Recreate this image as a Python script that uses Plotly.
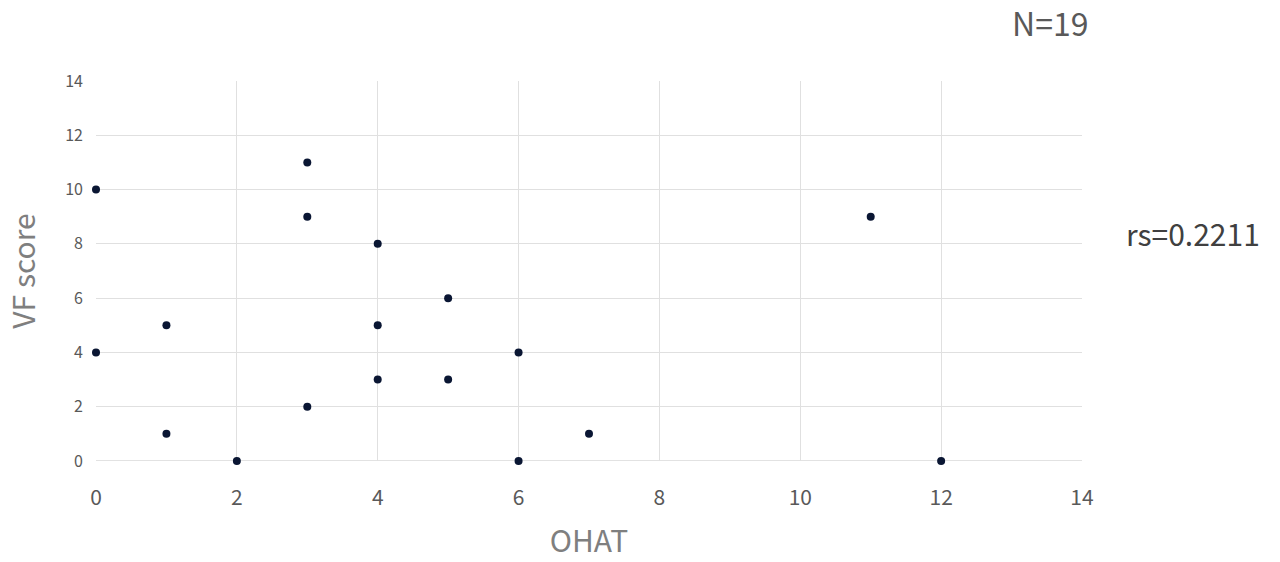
import plotly.graph_objects as go

ohat = [0, 0, 1, 1, 2, 3, 3, 3, 4, 4, 4, 5, 5, 6, 6, 7, 11, 12]
vf_score = [10, 4, 5, 1, 0, 11, 9, 2, 8, 5, 3, 6, 3, 4, 0, 1, 9, 0]
x_ticks = [0, 2, 4, 6, 8, 10, 12, 14]
y_ticks = [0, 2, 4, 6, 8, 10, 12, 14]

FONT = "Noto Sans CJK JP"

fig = go.Figure()
fig.add_trace(go.Scatter(
    x=ohat, y=vf_score, mode="markers",
    marker=dict(color="#0a1633", size=8),
    cliponaxis=False, showlegend=False,
))

fig.update_layout(
    width=1280, height=562,
    margin=dict(l=96, r=198, t=81, b=101),
    paper_bgcolor="white", plot_bgcolor="white",
    font=dict(family=FONT, color="#595959"),
    xaxis=dict(
        range=[0, 14], tickvals=x_ticks, ticktext=[str(v) for v in x_ticks],
        showgrid=True, gridcolor="#e0e0e0", gridwidth=1,
        zeroline=False, showline=False, ticks="", automargin=False,
        tickfont=dict(size=21, color="#595959", family=FONT),
        ticklabelstandoff=22,
        title=dict(text="OHAT", font=dict(size=30, color="#7f7f7f", family=FONT), standoff=20),
    ),
    yaxis=dict(
        range=[0, 14], tickvals=y_ticks, ticktext=[str(v) for v in y_ticks],
        showgrid=True, gridcolor="#e0e0e0", gridwidth=1,
        zeroline=False, showline=False, ticks="", automargin=False,
        tickfont=dict(size=16, color="#595959", family=FONT),
        ticklabelstandoff=12,
        title=dict(text="VF score", font=dict(size=30, color="#7f7f7f", family=FONT), standoff=24),
    ),
    annotations=[
        dict(text="N=19", xref="paper", yref="paper", x=1.0, y=(461 - 22) / 380, xanchor="right",
             yanchor="middle", xshift=8, showarrow=False,
             font=dict(size=32, color="#595959", family=FONT)),
        dict(text="rs=0.2211", xref="paper", yref="y", x=1.0, y=8.4, xanchor="left",
             yanchor="middle", xshift=42, showarrow=False,
             font=dict(size=30, color="#404040", family=FONT)),
    ],
)

fig.add_shape(type="line", xref="x", yref="y", x0=0, x1=14, y0=0, y1=0,
              line=dict(color="#d9d9d9", width=1.5), layer="below")

fig.write_html("out.html", config={"displayModeBar": False},
               post_script="document.body.style.margin='0';")
